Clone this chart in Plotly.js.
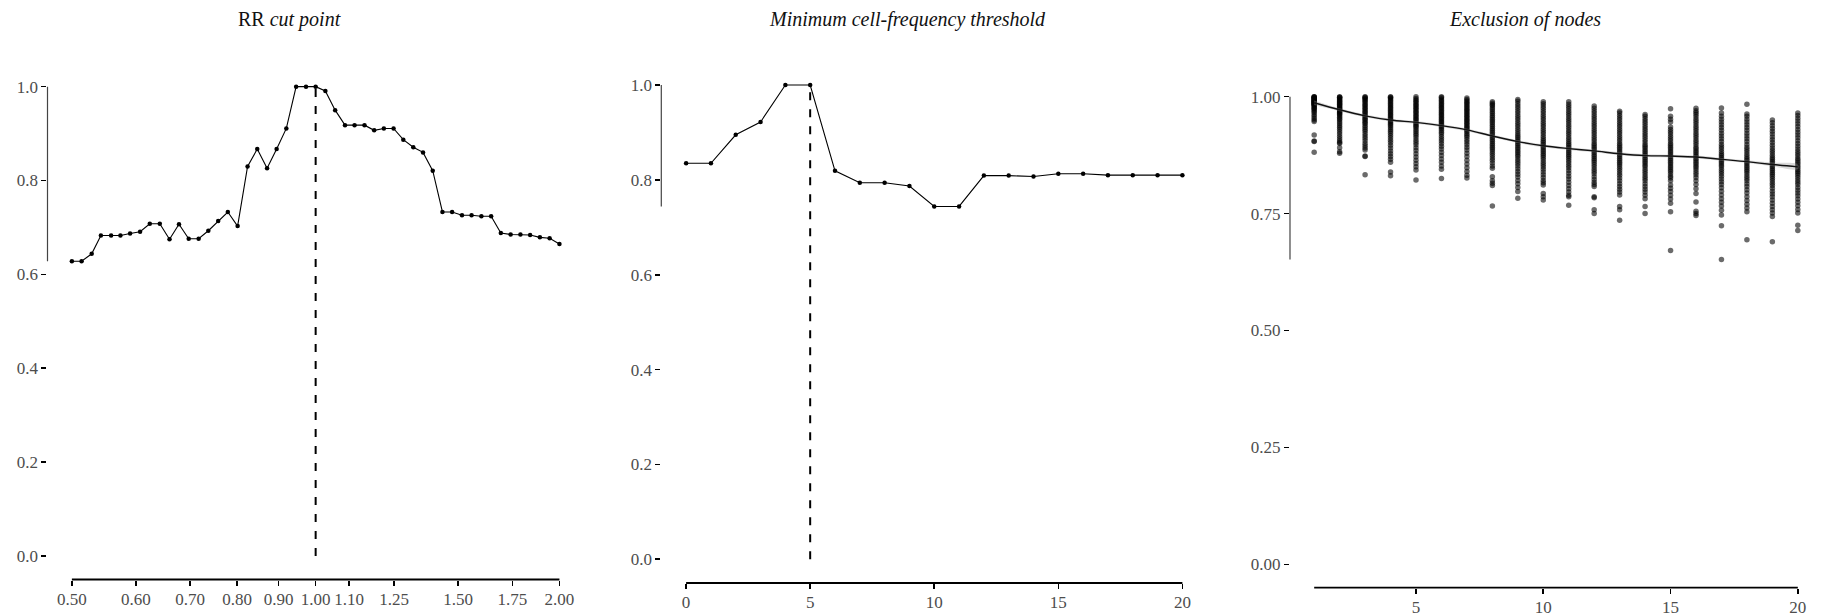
<!DOCTYPE html>
<html>
<head>
<meta charset="utf-8">
<script src="https://cdn.plot.ly/plotly-3.0.1.min.js"></script>
<style>
html,body{margin:0;padding:0;background:#fff;}
#chart{width:1822px;height:616px;}
</style>
</head>
<body>
<div id="chart"></div>
<script>
// ---------- Panel 1: RR cut point ----------
const rrCut = [0.500,0.514,0.529,0.543,0.559,0.574,0.590,0.607,0.624,0.642,
  0.660,0.678,0.697,0.717,0.737,0.758,0.779,0.801,0.824,0.847,
  0.871,0.895,0.920,0.946,0.973,1.000,1.028,1.057,1.087,1.117,
  1.149,1.181,1.214,1.248,1.283,1.320,1.357,1.395,1.434,1.474,
  1.516,1.558,1.602,1.647,1.693,1.741,1.790,1.840,1.892,1.945,2.000];
const rrValue = [0.628,0.628,0.644,0.683,0.683,0.683,0.687,0.691,0.708,0.708,
  0.675,0.707,0.676,0.676,0.693,0.714,0.733,0.703,0.830,0.867,
  0.826,0.867,0.911,1.000,1.000,1.000,0.991,0.950,0.918,0.918,
  0.918,0.907,0.911,0.911,0.887,0.871,0.860,0.821,0.733,0.733,
  0.726,0.726,0.724,0.724,0.688,0.685,0.685,0.684,0.679,0.677,0.665];
const rrTickVals = [0.5,0.6,0.7,0.8,0.9,1.0,1.1,1.25,1.5,1.75,2.0];
const rrTickText = ['0.50','0.60','0.70','0.80','0.90','1.00','1.10','1.25','1.50','1.75','2.00'];
const rrChosen = 1.0;

// ---------- Panel 2: Minimum cell-frequency threshold ----------
const freqThreshold = [0,1,2,3,4,5,6,7,8,9,10,11,12,13,14,15,16,17,18,19,20];
const freqValue = [0.835,0.835,0.895,0.922,1.000,1.000,0.819,0.794,0.794,0.787,
  0.744,0.744,0.809,0.809,0.807,0.813,0.813,0.810,0.810,0.810,0.810];
const freqTickVals = [0,5,10,15,20];
const freqChosen = 5;

const shareTickVals = [0,0.2,0.4,0.6,0.8,1.0];
const shareTickText = ['0.0','0.2','0.4','0.6','0.8','1.0'];

// ---------- Panel 3: Exclusion of nodes ----------
const nodesExcluded = [1,2,3,4,5,6,7,8,9,10,11,12,13,14,15,16,17,18,19,20];
const node1 = [1.000,1.000,0.999,0.998,0.997,0.996,0.995,0.994,0.993,0.992,0.991,0.990,0.989,0.988,0.987,0.986,0.985,0.984,0.983,0.982,0.980,0.978,0.976,0.974,0.972,0.969,0.966,0.962,0.958,0.954,0.950,0.947,0.918,0.905,0.904,0.881];
const node2 = [1.000,0.999,0.998,0.996,0.994,0.992,0.990,0.988,0.986,0.984,0.982,0.980,0.978,0.976,0.974,0.972,0.970,0.968,0.966,0.964,0.962,0.959,0.956,0.953,0.950,0.946,0.942,0.938,0.934,0.930,0.925,0.920,0.915,0.910,0.905,0.902,0.900,0.891,0.882,0.879];
const node3 = [1.000,0.999,0.997,0.995,0.993,0.990,0.987,0.984,0.981,0.978,0.975,0.972,0.969,0.966,0.963,0.960,0.957,0.954,0.951,0.948,0.945,0.942,0.938,0.934,0.930,0.926,0.921,0.916,0.911,0.906,0.900,0.895,0.890,0.886,0.873,0.872,0.833];
const node4 = [1.000,0.999,0.997,0.995,0.992,0.989,0.986,0.983,0.980,0.977,0.974,0.971,0.968,0.965,0.962,0.959,0.956,0.953,0.950,0.947,0.944,0.941,0.938,0.934,0.930,0.926,0.922,0.917,0.912,0.907,0.902,0.896,0.890,0.884,0.878,0.872,0.866,0.860,0.839,0.831];
const node5 = [1.000,0.996,0.993,0.990,0.987,0.984,0.981,0.978,0.975,0.972,0.969,0.966,0.963,0.960,0.957,0.954,0.951,0.948,0.945,0.942,0.939,0.936,0.933,0.929,0.925,0.921,0.917,0.912,0.907,0.902,0.897,0.891,0.885,0.878,0.871,0.864,0.857,0.850,0.843,0.822];
const node6 = [1.000,0.998,0.995,0.992,0.989,0.986,0.983,0.980,0.977,0.974,0.971,0.968,0.965,0.962,0.959,0.956,0.953,0.950,0.947,0.944,0.941,0.938,0.935,0.932,0.928,0.924,0.920,0.915,0.910,0.905,0.900,0.894,0.888,0.881,0.874,0.867,0.860,0.852,0.845,0.825];
const node7 = [0.997,0.994,0.991,0.988,0.985,0.982,0.979,0.976,0.973,0.970,0.967,0.964,0.961,0.958,0.955,0.952,0.949,0.946,0.943,0.940,0.937,0.934,0.931,0.928,0.925,0.921,0.917,0.913,0.908,0.903,0.898,0.892,0.886,0.879,0.872,0.864,0.856,0.848,0.840,0.832,0.826];
const node8 = [0.989,0.986,0.983,0.980,0.976,0.972,0.968,0.964,0.960,0.956,0.952,0.948,0.944,0.940,0.936,0.932,0.928,0.924,0.920,0.916,0.912,0.908,0.904,0.900,0.896,0.892,0.888,0.884,0.879,0.874,0.869,0.864,0.858,0.852,0.847,0.829,0.820,0.815,0.810,0.766];
const node9 = [0.994,0.990,0.985,0.980,0.975,0.970,0.965,0.960,0.955,0.950,0.945,0.940,0.935,0.930,0.925,0.920,0.916,0.912,0.908,0.904,0.900,0.896,0.892,0.888,0.884,0.880,0.876,0.872,0.867,0.862,0.857,0.852,0.846,0.840,0.834,0.828,0.821,0.814,0.806,0.797,0.783];
const node10 = [0.989,0.985,0.980,0.975,0.970,0.965,0.960,0.955,0.950,0.945,0.940,0.935,0.930,0.925,0.920,0.915,0.910,0.906,0.902,0.898,0.894,0.890,0.886,0.882,0.878,0.874,0.870,0.865,0.860,0.855,0.850,0.845,0.839,0.833,0.827,0.821,0.816,0.811,0.793,0.786,0.779];
const node11 = [0.989,0.984,0.979,0.974,0.969,0.964,0.959,0.954,0.949,0.944,0.939,0.934,0.929,0.924,0.919,0.914,0.909,0.904,0.900,0.896,0.892,0.888,0.884,0.880,0.876,0.872,0.868,0.863,0.858,0.853,0.848,0.842,0.836,0.830,0.824,0.817,0.810,0.803,0.796,0.789,0.786,0.768];
const node12 = [0.980,0.975,0.970,0.965,0.960,0.955,0.950,0.945,0.940,0.935,0.930,0.925,0.920,0.915,0.910,0.905,0.900,0.896,0.892,0.888,0.884,0.880,0.876,0.872,0.868,0.864,0.860,0.855,0.850,0.845,0.840,0.835,0.829,0.823,0.817,0.812,0.808,0.786,0.784,0.758,0.750];
const node13 = [0.969,0.965,0.960,0.955,0.950,0.945,0.940,0.935,0.930,0.925,0.920,0.915,0.910,0.905,0.900,0.896,0.892,0.888,0.884,0.880,0.876,0.872,0.868,0.864,0.860,0.856,0.852,0.847,0.842,0.837,0.832,0.826,0.820,0.814,0.808,0.802,0.796,0.790,0.765,0.758,0.736];
const node14 = [0.962,0.958,0.953,0.948,0.943,0.938,0.933,0.928,0.923,0.918,0.913,0.908,0.903,0.898,0.894,0.890,0.886,0.882,0.878,0.874,0.870,0.866,0.862,0.858,0.854,0.850,0.845,0.840,0.835,0.830,0.825,0.820,0.814,0.808,0.802,0.796,0.789,0.782,0.765,0.750];
const node15 = [0.974,0.958,0.952,0.946,0.935,0.930,0.925,0.920,0.915,0.910,0.905,0.900,0.896,0.892,0.888,0.884,0.880,0.876,0.872,0.868,0.864,0.860,0.856,0.852,0.848,0.844,0.840,0.835,0.830,0.826,0.820,0.811,0.804,0.797,0.789,0.781,0.772,0.754,0.671];
const node16 = [0.975,0.970,0.966,0.962,0.957,0.952,0.947,0.942,0.937,0.932,0.927,0.922,0.917,0.912,0.907,0.902,0.897,0.892,0.888,0.884,0.880,0.876,0.872,0.868,0.864,0.860,0.856,0.852,0.848,0.843,0.838,0.833,0.827,0.820,0.812,0.803,0.793,0.775,0.755,0.750,0.746];
const node17 = [0.976,0.965,0.958,0.952,0.946,0.940,0.934,0.928,0.922,0.916,0.910,0.904,0.898,0.893,0.888,0.883,0.878,0.874,0.870,0.866,0.862,0.858,0.854,0.850,0.845,0.840,0.835,0.830,0.824,0.818,0.812,0.805,0.798,0.790,0.782,0.774,0.766,0.757,0.747,0.724,0.652];
const node18 = [0.984,0.963,0.958,0.952,0.946,0.940,0.934,0.928,0.922,0.916,0.910,0.904,0.898,0.892,0.887,0.882,0.877,0.872,0.868,0.864,0.860,0.856,0.852,0.848,0.844,0.840,0.835,0.830,0.825,0.820,0.814,0.808,0.801,0.794,0.786,0.778,0.770,0.762,0.754,0.694];
const node19 = [0.950,0.944,0.938,0.932,0.926,0.920,0.914,0.908,0.902,0.896,0.890,0.885,0.880,0.875,0.870,0.866,0.862,0.858,0.854,0.850,0.846,0.842,0.838,0.834,0.830,0.825,0.820,0.815,0.810,0.804,0.798,0.792,0.786,0.779,0.772,0.765,0.758,0.751,0.744,0.690];
const node20 = [0.965,0.960,0.954,0.948,0.942,0.936,0.930,0.924,0.918,0.912,0.906,0.900,0.894,0.888,0.883,0.878,0.873,0.868,0.864,0.860,0.856,0.852,0.848,0.844,0.840,0.836,0.832,0.827,0.822,0.817,0.812,0.806,0.800,0.794,0.788,0.781,0.774,0.767,0.759,0.751,0.725,0.714];
const nodeRuns = [node1,node2,node3,node4,node5,node6,node7,node8,node9,node10,
  node11,node12,node13,node14,node15,node16,node17,node18,node19,node20];
const nodeSmooth   = [0.987,0.972,0.959,0.950,0.945,0.938,0.929,0.916,0.904,0.895,0.889,0.884,0.878,0.874,0.873,0.871,0.866,0.861,0.855,0.850];
const nodeSmoothLo = [0.982,0.969,0.956,0.947,0.942,0.935,0.926,0.913,0.901,0.892,0.886,0.881,0.875,0.871,0.870,0.868,0.863,0.858,0.851,0.845];
const nodeSmoothHi = [0.992,0.975,0.962,0.953,0.948,0.941,0.932,0.919,0.907,0.898,0.892,0.887,0.881,0.877,0.876,0.874,0.869,0.864,0.859,0.855];
const nodeTickVals = [5,10,15,20];
const nodeYTickVals = [0,0.25,0.5,0.75,1.0];
const nodeYTickText = ['0.00','0.25','0.50','0.75','1.00'];

// ---------- build ----------
const SERIF = '"Liberation Serif", "DejaVu Serif", serif';
const tickFont = {family: SERIF, size: 17, color: '#4d4d4d'};

const scX = [], scY = [];
nodeRuns.forEach((run, i) => run.forEach(v => { scX.push(nodesExcluded[i]); scY.push(v); }));
const allNode = scY;

const traces = [
  {x: rrCut, y: rrValue, xaxis: 'x', yaxis: 'y', type: 'scatter', mode: 'lines+markers',
   line: {color: '#000', width: 1.1}, marker: {color: '#000', size: 4.5}},
  {x: freqThreshold, y: freqValue, xaxis: 'x2', yaxis: 'y2', type: 'scatter', mode: 'lines+markers',
   line: {color: '#000', width: 1.1}, marker: {color: '#000', size: 4.5}},
  {x: scX, y: scY, xaxis: 'x3', yaxis: 'y3', type: 'scatter', mode: 'markers',
   marker: {color: 'rgba(0,0,0,0.58)', size: 5.5, line: {width: 0}}},
  {x: nodesExcluded.concat(nodesExcluded.slice().reverse()),
   y: nodeSmoothLo.concat(nodeSmoothHi.slice().reverse()),
   xaxis: 'x3', yaxis: 'y3', type: 'scatter', mode: 'lines', fill: 'toself',
   fillcolor: 'rgba(150,150,150,0.35)', line: {width: 0, shape: 'spline'}},
  {x: nodesExcluded, y: nodeSmooth, xaxis: 'x3', yaxis: 'y3', type: 'scatter', mode: 'lines',
   line: {color: '#111', width: 1.4, shape: 'spline'}}
];

function xAxis(domain, extra) {
  return Object.assign({domain: domain, showline: false, showgrid: false, zeroline: false,
    ticks: 'outside', ticklen: 5, tickwidth: 1.6, tickcolor: '#000', ticklabelstandoff: -1,
    tickfont: tickFont, fixedrange: true}, extra);
}
function yAxis(domain, anchor, extra) {
  return Object.assign({domain: domain, anchor: anchor, showline: false, showgrid: false, zeroline: false,
    ticks: 'outside', ticklen: 5, tickwidth: 1.6, tickcolor: '#000',
    tickfont: tickFont, fixedrange: true, range: [-0.05, 1.05], tickmode: 'array'}, extra);
}

const lg = Math.log10;
const rrPad = 0.05 * (lg(rrCut[rrCut.length-1]) - lg(rrCut[0]));
const fPad = 0.05 * (freqThreshold[freqThreshold.length-1] - freqThreshold[0]);
const nPad = 0.05 * (nodesExcluded[nodesExcluded.length-1] - nodesExcluded[0]);

const layout = {
  width: 1822, height: 616,
  margin: {l: 0, r: 0, t: 0, b: 0},
  paper_bgcolor: '#fff', plot_bgcolor: '#fff',
  showlegend: false,
  font: {family: SERIF},
  xaxis: xAxis([0.02607, 0.32042], {anchor: 'y', type: 'log',
    range: [lg(rrCut[0]) - rrPad, lg(rrCut[rrCut.length-1]) + rrPad],
    tickmode: 'array', tickvals: rrTickVals, ticktext: rrTickText}),
  yaxis: yAxis([0.05925, 0.89740], 'x', {tickvals: shareTickVals, ticktext: shareTickText}),
  xaxis2: xAxis([0.36295, 0.66257], {anchor: 'y2',
    range: [freqThreshold[0] - fPad, freqThreshold[freqThreshold.length-1] + fPad],
    tickmode: 'array', tickvals: freqTickVals}),
  yaxis2: yAxis([0.05357, 0.90049], 'x2', {tickvals: shareTickVals, ticktext: shareTickText}),
  xaxis3: xAxis([0.70801, 1.0], {anchor: 'y3',
    range: [nodesExcluded[0] - nPad, nodesExcluded[nodesExcluded.length-1] + nPad],
    tickmode: 'array', tickvals: nodeTickVals}),
  yaxis3: yAxis([0.04594, 0.88101], 'x3', {tickvals: nodeYTickVals, ticktext: nodeYTickText}),
  shapes: [
    {type: 'line', xref: 'x', yref: 'y domain', x0: rrCut[0], x1: rrCut[rrCut.length-1], y0: 0, y1: 0, line: {color: '#000', width: 1.8}},
    {type: 'line', xref: 'x domain', yref: 'y', x0: 0, x1: 0, y0: Math.min(...rrValue), y1: Math.max(...rrValue), line: {color: '#444', width: 1.2}},
    {type: 'line', xref: 'x2', yref: 'y2 domain', x0: freqThreshold[0], x1: freqThreshold[freqThreshold.length-1], y0: 0, y1: 0, line: {color: '#000', width: 1.8}},
    {type: 'line', xref: 'x2 domain', yref: 'y2', x0: 0, x1: 0, y0: Math.min(...freqValue), y1: Math.max(...freqValue), line: {color: '#444', width: 1.2}},
    {type: 'line', xref: 'x3', yref: 'y3 domain', x0: nodesExcluded[0], x1: nodesExcluded[nodesExcluded.length-1], y0: 0, y1: 0, line: {color: '#000', width: 1.8}},
    {type: 'line', xref: 'x3 domain', yref: 'y3', x0: 0, x1: 0, y0: Math.min(...allNode), y1: Math.max(...allNode), line: {color: '#444', width: 1.2}},
    {type: 'line', xref: 'x', yref: 'y', x0: rrChosen, x1: rrChosen, y0: 0, y1: Math.max(...rrValue), line: {color: '#000', width: 2, dash: '8px,9px'}},
    {type: 'line', xref: 'x2', yref: 'y2', x0: freqChosen, x1: freqChosen, y0: 0, y1: Math.max(...freqValue), line: {color: '#000', width: 2, dash: '8px,9px'}}
  ],
  annotations: [
    {text: 'RR <i>cut point</i>', xref: 'paper', yref: 'paper', x: 289/1822, y: 1 - 20/616, showarrow: false,
     xanchor: 'center', yanchor: 'middle', font: {family: SERIF, size: 20, color: '#111'}},
    {text: '<i>Minimum cell-frequency threshold</i>', xref: 'paper', yref: 'paper', x: 907.5/1822, y: 1 - 20/616, showarrow: false,
     xanchor: 'center', yanchor: 'middle', font: {family: SERIF, size: 20, color: '#111'}},
    {text: '<i>Exclusion of nodes</i>', xref: 'paper', yref: 'paper', x: 1525/1822, y: 1 - 20/616, showarrow: false,
     xanchor: 'center', yanchor: 'middle', font: {family: SERIF, size: 20, color: '#111'}}
  ]
};

Plotly.newPlot('chart', traces, layout, {displayModeBar: false, staticPlot: true});
</script>
</body>
</html>
